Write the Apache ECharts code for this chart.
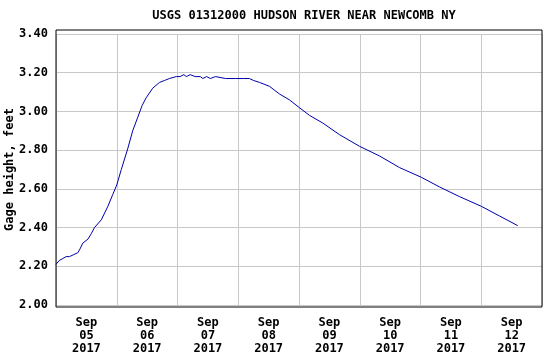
<!DOCTYPE html>
<html>
<head>
<meta charset="utf-8">
<script src="https://cdn.jsdelivr.net/npm/echarts@6/dist/echarts.min.js"></script>
<style>
html,body{margin:0;padding:0;background:#fff;}
#c{width:545px;height:357px;}
</style>
</head>
<body>
<div id="c"></div>
<script>
var titleText = 'USGS 01312000 HUDSON RIVER NEAR NEWCOMB NY';
var yAxisName = 'Gage height, feet';
// x labels (one per day, at noon), hours since Sep 05 2017 00:00
var dayMonth = ['Sep','Sep','Sep','Sep','Sep','Sep','Sep','Sep'];
var dayNum = ['05','06','07','08','09','10','11','12'];
var dayYear = ['2017','2017','2017','2017','2017','2017','2017','2017'];
var yTicks = [2.00, 2.20, 2.40, 2.60, 2.80, 3.00, 3.20, 3.40];

var hours = [0, 1.3, 2.7, 4, 5.3, 7, 8.6, 9.5, 10.6, 12.6, 14, 15.2, 17.9, 20.5, 22.4, 24, 25.8, 28.4, 30.3, 32.3, 34, 35.6, 38.2, 40.9, 42.9, 44.8, 47.5, 49, 50.5, 51.5, 53, 55, 57, 58, 59.5, 61, 63, 67, 71, 74, 76.4, 78, 80.4, 84.3, 88.3, 92.2, 96.1, 100.1, 105.4, 112, 119.9, 127.8, 135.7, 144.3, 151.5, 159.4, 168, 175.2, 182.4];
var gage = [2.21, 2.23, 2.24, 2.25, 2.25, 2.26, 2.27, 2.29, 2.32, 2.34, 2.37, 2.40, 2.44, 2.51, 2.57, 2.62, 2.70, 2.81, 2.90, 2.97, 3.03, 3.07, 3.12, 3.15, 3.16, 3.17, 3.18, 3.18, 3.19, 3.18, 3.19, 3.18, 3.18, 3.17, 3.18, 3.17, 3.18, 3.17, 3.17, 3.17, 3.17, 3.16, 3.15, 3.13, 3.09, 3.06, 3.02, 2.98, 2.94, 2.88, 2.82, 2.77, 2.71, 2.66, 2.61, 2.56, 2.51, 2.46, 2.41];

var FONT = 'DejaVu Sans Mono';
var data = hours.map(function(h, i){ return [h, gage[i]]; });

var chart = echarts.init(document.getElementById('c'), null, {renderer:'canvas'});
chart.setOption({
  animation: false,
  backgroundColor: '#fff',
  title: {
    text: titleText, left: 299, top: 5, textAlign: 'center',
    textStyle: {fontFamily: FONT, fontWeight: 'bold', fontSize: 12, color: '#000'}
  },
  grid: [
    {left: 56, top: 34, width: 486, height: 271, show: false, containLabel: false, outerBoundsMode: 'none'},
    {left: 56, top: 30, width: 486, height: 277, show: true, borderColor: '#000', borderWidth: 1, backgroundColor: 'transparent', z: 5, containLabel: false, outerBoundsMode: 'none'}
  ],
  xAxis: [
    {gridIndex: 0, type: 'value', min: 0, max: 192, interval: 24,
     axisLine: {show: false}, axisTick: {show: false}, axisLabel: {show: false},
     splitLine: {show: true, lineStyle: {color: '#c8c8c8', width: 1}}},
    {gridIndex: 0, type: 'value', position: 'bottom', min: 0, max: 192, interval: 12,
     axisLine: {show: false}, axisTick: {show: false}, splitLine: {show: false},
     axisLabel: {show: true, margin: 11, fontFamily: FONT, fontWeight: 'bold', fontSize: 12, color: '#000', lineHeight: 13,
       showMinLabel: false, showMaxLabel: false,
       formatter: function(v){
         if ((v - 12) % 24 !== 0) return '';
         var i = (v - 12) / 24;
         return dayMonth[i] + '\n' + dayNum[i] + '\n' + dayYear[i];
       }}},
    {gridIndex: 1, type: 'value', show: false, min: 0, max: 1}
  ],
  yAxis: [
    {gridIndex: 0, type: 'value', min: yTicks[0], max: yTicks[yTicks.length-1], interval: 0.2,
     axisLine: {show: false}, axisTick: {show: false},
     splitLine: {show: true, lineStyle: {color: '#c8c8c8', width: 1}},
     axisLabel: {margin: 8, fontFamily: FONT, fontWeight: 'bold', fontSize: 12, color: '#000',
       formatter: function(v){ return v.toFixed(2); }},
     name: yAxisName, nameLocation: 'middle', nameRotate: 90, nameGap: 40, nameMoveOverlap: false,
     nameTextStyle: {fontFamily: FONT, fontWeight: 'bold', fontSize: 12, color: '#000'}},
    {gridIndex: 1, type: 'value', show: false, min: 0, max: 1}
  ],
  series: [{
    type: 'line', xAxisIndex: 0, yAxisIndex: 0, data: data,
    showSymbol: false, symbol: 'none',
    lineStyle: {color: '#0000a8', width: 1}
  }]
});
</script>
</body>
</html>
